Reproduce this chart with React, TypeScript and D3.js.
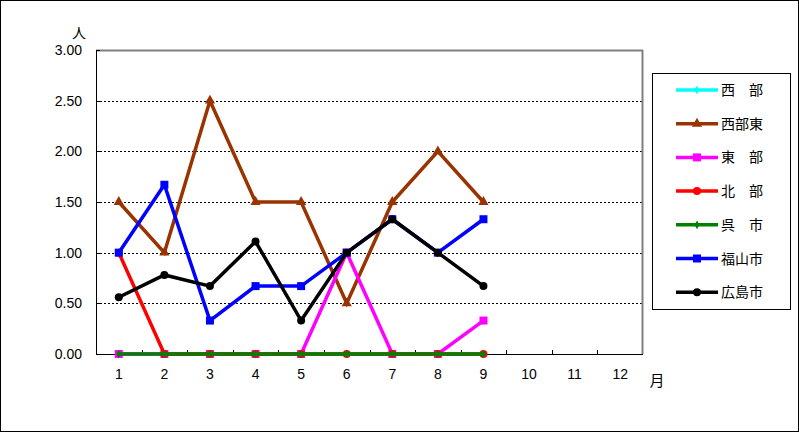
import React from "react";
import * as d3 from "d3";

const months = ["1", "2", "3", "4", "5", "6", "7", "8", "9", "10", "11", "12"];
const yTicks = [0, 0.5, 1, 1.5, 2, 2.5, 3];

const seriesNames = ["西　部", "西部東", "東　部", "北　部", "呉　市", "福山市", "広島市"];
const seriesColors = ["#00ffff", "#993300", "#ff00ff", "#ff0000", "#008000", "#0000ff", "#000000"];
const seriesMarkers = ["diamond", "triangle", "square", "circle", "diamond", "square", "circle"];

const seibu = [0, 0, 0, 0, 0, 0, 0, 0, 0];
const seibuHigashi = [1.5, 1.0, 2.5, 1.5, 1.5, 0.5, 1.5, 2.0, 1.5];
const toubu = [0, 0, 0, 0, 0, 1.0, 0, 0, 0.33];
const hokubu = [1.0, 0, 0, 0, 0, 0, 0, 0, 0];
const kureshi = [0, 0, 0, 0, 0, 0, 0, 0, 0];
const fukuyama = [1.0, 1.67, 0.33, 0.67, 0.67, 1.0, 1.33, 1.0, 1.33];
const hiroshima = [0.56, 0.78, 0.67, 1.11, 0.33, 1.0, 1.33, 1.0, 0.67];

const seriesValues = [seibu, seibuHigashi, toubu, hokubu, kureshi, fukuyama, hiroshima];

const W = 799, H = 432;
const plot = { left: 96, right: 643, top: 50, bottom: 354 };
const numFont = "'Liberation Sans', Arial, sans-serif";
const cjkFont = "'Noto Sans CJK JP', sans-serif";

function Marker({ type, x, y, color }: { type: string; x: number; y: number; color: string }) {
  if (type === "square") return <rect x={x - 4} y={y - 4} width={8} height={8} fill={color} />;
  if (type === "circle") return <circle cx={x} cy={y} r={4} fill={color} />;
  if (type === "triangle") {
    const s = d3.symbol(d3.symbolTriangle, 45)();
    return <path d={s as string} transform={`translate(${x},${y})`} fill={color} />;
  }
  const s = d3.symbol(d3.symbolDiamond, 22)();
  return <path d={s as string} transform={`translate(${x},${y})`} fill={color} />;
}

export default function App() {
  const x = d3.scaleBand<string>().domain(months).range([plot.left, plot.right]);
  const y = d3.scaleLinear().domain([0, 3]).range([plot.bottom, plot.top]);
  const cx = (i: number) => (x(months[i]) as number) + x.bandwidth() / 2;
  const line = d3
    .line<number>()
    .x((_, i) => cx(i))
    .y((d) => y(d));

  const boundaries = d3.range(1, months.length).map((i) => plot.left + i * x.bandwidth());

  const legend = { x: 652.5, y: 73.5, w: 138, h: 236 };

  return (
    <svg
      width={W}
      height={H}
      style={{ position: "absolute", left: 0, top: 0, display: "block", background: "#fff" }}
      fontFamily={numFont}
    >
      <rect x={0.5} y={0.5} width={W - 1} height={H - 1} fill="#fff" stroke="#000" />
      {yTicks.slice(1, -1).map((t) => (
        <line
          key={t}
          x1={plot.left}
          x2={plot.right}
          y1={Math.round(y(t)) + 0.5}
          y2={Math.round(y(t)) + 0.5}
          stroke="#000"
          strokeDasharray="2,2"
        />
      ))}
      <line x1={plot.left} x2={plot.right} y1={plot.top + 0.5} y2={plot.top + 0.5} stroke="#808080" strokeWidth={2} />
      <line x1={plot.right - 0.5} x2={plot.right - 0.5} y1={plot.top} y2={plot.bottom} stroke="#808080" strokeWidth={2} />
      <line x1={plot.left + 0.5} x2={plot.left + 0.5} y1={plot.top} y2={plot.bottom} stroke="#000" />
      <line x1={plot.left} x2={plot.right} y1={plot.bottom + 0.5} y2={plot.bottom + 0.5} stroke="#000" />
      {yTicks.map((t) => (
        <g key={t}>
          <line x1={plot.left} x2={plot.left + 4} y1={Math.round(y(t)) + 0.5} y2={Math.round(y(t)) + 0.5} stroke="#000" />
          <text x={82} y={y(t)} dy="0.36em" textAnchor="end" fontSize={14}>
            {t.toFixed(2)}
          </text>
        </g>
      ))}
      {boundaries.map((b) => (
        <line key={b} x1={Math.round(b) + 0.5} x2={Math.round(b) + 0.5} y1={plot.bottom - 4} y2={plot.bottom} stroke="#000" />
      ))}
      {months.map((m, i) => (
        <text key={m} x={cx(i)} y={379} textAnchor="middle" fontSize={14}>
          {m}
        </text>
      ))}
      <text x={79} y={38} textAnchor="middle" fontSize={14} fontFamily={cjkFont}>人</text>
      <text x={657} y={386} textAnchor="middle" fontSize={15} fontFamily={cjkFont}>月</text>

      {seriesValues.map((vals, si) => (
        <g key={si}>
          <path d={line(vals) as string} fill="none" stroke={seriesColors[si]} strokeWidth={3.5} strokeLinejoin="miter" />
          {vals.map((v, i) => (
            <Marker key={i} type={seriesMarkers[si]} x={cx(i)} y={y(v)} color={seriesColors[si]} />
          ))}
        </g>
      ))}

      <rect x={legend.x} y={legend.y} width={legend.w} height={legend.h} fill="#fff" stroke="#000" />
      {seriesNames.map((n, i) => {
        const ly = 90 + i * 33.7;
        return (
          <g key={n}>
            <line x1={676} x2={718} y1={ly} y2={ly} stroke={seriesColors[i]} strokeWidth={3.5} />
            <Marker type={seriesMarkers[i]} x={697} y={ly} color={seriesColors[i]} />
            <text x={721} y={ly} dy="0.36em" fontSize={14} fontFamily={cjkFont}>
              {n}
            </text>
          </g>
        );
      })}
    </svg>
  );
}
